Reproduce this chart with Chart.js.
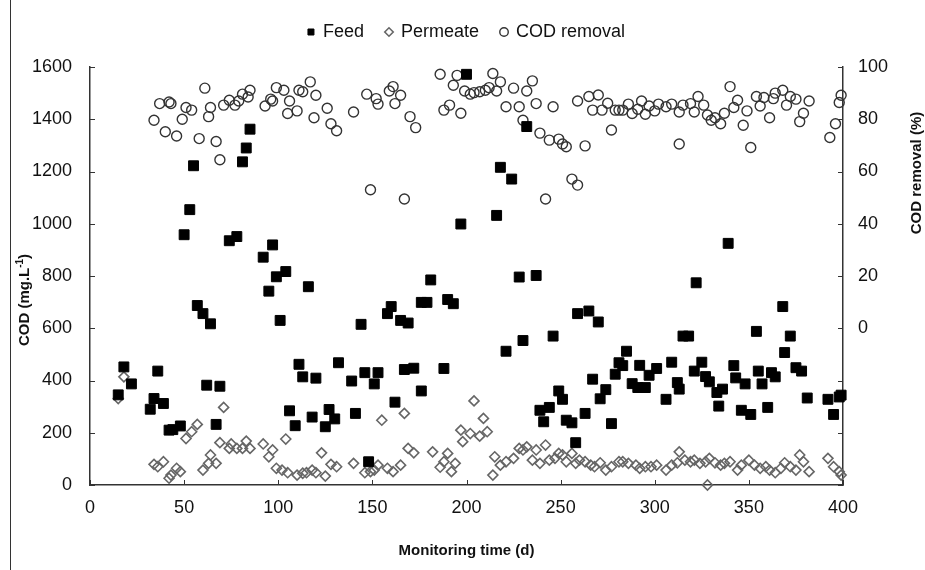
<!DOCTYPE html>
<html>
<head>
<meta charset="utf-8">
<script src="https://cdn.jsdelivr.net/npm/chart.js@4.4.1/dist/chart.umd.min.js"></script>
<style>
  html, body { margin: 0; padding: 0; background: #fff; }
  #wrap { position: relative; width: 925px; height: 570px; }
</style>
</head>
<body>
<div id="wrap"><canvas id="codChart" width="925" height="570"></canvas></div>
<script>
// Feed COD (mg/L) vs monitoring day
const feedDays = [15,18,22,32,34,36,39,42,44,48,50,53,55,57,60,62,64,67,69,74,78,81,83,85,92,95,97,99,101,104,
  106,109,111,113,116,118,120,125,127,130,132,139,141,144,146,148,151,153,158,160,162,165,167,169,172,176,176,179,181,188,
  190,193,197,200,216,218,221,224,228,230,232,237,239,241,244,246,249,251,253,256,258,259,263,265,267,270,271,274,277,279,
  281,283,285,288,291,292,295,297,301,306,309,312,313,315,318,321,322,325,327,329,333,334,336,339,342,343,346,348,351,354,
  355,357,360,362,364,368,369,372,375,378,381,392,395,398,399];
const feedCod = [345,452,387,290,331,436,312,210,212,226,958,1054,1222,687,656,382,617,232,378,935,951,1237,1290,1362,872,742,919,797,630,817,
  284,227,462,414,759,260,409,223,289,253,468,398,274,615,430,89,387,430,656,683,317,630,442,620,447,360,699,699,785,446,
  710,694,999,1572,1032,1216,512,1171,796,553,1372,802,286,242,297,570,360,328,248,238,162,656,274,666,405,624,330,365,235,424,
  468,457,512,388,373,458,373,420,446,328,470,392,367,570,570,436,774,470,415,395,354,302,367,925,457,410,286,387,270,588,
  436,387,297,430,414,683,507,570,449,436,333,328,270,337,344];

// Permeate COD (mg/L)
const permeateDays = [15,18,34,36,39,42,43,46,48,51,54,57,60,63,64,67,69,71,74,75,78,81,83,85,92,95,97,99,102,104,
  105,110,113,115,118,120,123,125,128,131,140,146,149,151,153,155,158,161,165,167,169,172,182,186,188,190,192,194,197,198,
  202,204,207,209,211,214,215,218,221,225,228,230,232,235,237,239,242,244,247,249,251,253,256,258,260,263,266,268,271,274,
  277,281,283,286,290,292,295,298,301,306,309,312,313,316,319,321,324,327,328,329,332,335,337,340,344,346,350,353,356,359,
  361,364,367,369,372,375,377,379,382,392,395,398,399];
const permeateCod = [331,414,79,70,89,26,38,64,51,178,204,232,57,83,115,83,162,297,140,157,140,140,168,140,157,108,134,64,57,176,
  47,38,45,47,57,47,123,34,79,70,83,47,51,57,76,248,64,51,76,274,140,123,127,68,89,121,51,83,210,166,
  197,322,187,255,204,38,108,76,89,102,140,134,146,95,134,83,153,95,102,121,115,89,121,83,95,89,76,70,85,57,
  70,89,89,83,76,64,70,70,76,57,76,85,127,95,89,95,83,89,0,102,85,76,83,89,57,76,95,76,64,70,
  57,47,64,85,70,57,115,89,51,102,70,51,38];

// COD removal (%)
const removalDays = [34,37,40,42,43,46,49,51,54,58,61,63,64,67,69,71,74,77,79,81,84,85,93,96,97,99,
  103,105,106,110,111,113,117,119,120,126,128,131,140,147,149,152,153,159,161,162,165,167,170,173,186,188,191,193,195,197,199,
  202,204,207,210,212,214,216,218,221,225,228,230,232,235,237,239,242,244,246,249,251,253,256,259,259,263,265,267,270,272,275,277,
  279,281,283,286,288,291,293,295,297,
  300,302,306,309,313,313,315,319,321,323,326,328,330,332,335,337,340,342,344,347,349,351,354,356,358,361,363,364,368,370,372,375,
  377,379,382,393,396,398,399];
const removalPct = [79.6,86,75.2,86.6,86,73.6,80,84.5,83.5,72.6,91.9,81,84.5,71.5,64.5,85.4,87.3,85.4,87,89.6,88.5,91.1,85.1,87.7,87,92.1,
  91.1,82.2,87,83.2,91.1,90.5,94.3,80.6,89.2,84.2,78.3,75.6,82.8,89.6,53,87.9,85.8,90.8,92.5,86,89.2,49.5,81,76.8,97.2,83.5,85.4,93,96.8,82.3,90.8,
  89.6,90.2,90.5,91.1,92.1,97.5,90.8,94.3,84.8,91.9,84.8,79.6,90.8,94.7,86,74.7,49.5,72,84.8,72.4,70.5,69.5,57.1,54.8,87,69.8,88.7,83.5,89.3,83.5,86.1,75.9,
  83.5,83.5,83.5,85.8,82.2,83.8,87,81.9,85.1,
  83.2,85.8,84.8,85.8,82.8,70.5,85.4,86,82.8,88.7,85.4,81.6,79.6,80.6,78.3,82.3,92.5,84.5,87.3,77.7,83.2,69.2,88.7,85.1,88.3,80.6,87.9,90,91.1,85.4,88.7,87.7,
  79.1,82.3,87,73,78.3,86.4,89.2];

const toPoints = (xs, ys) => xs.map((d, i) => ({ x: d, y: ys[i] }));

const textColor = '#111';
const fontFamily = '"Liberation Sans", Arial, sans-serif';

// ticks pointing inwards, the outer frame line and the axis titles
const extras = {
  id: 'extras',
  afterDraw(chart) {
    const { ctx, chartArea: a, scales } = chart;
    ctx.save();
    ctx.strokeStyle = '#333';
    ctx.lineWidth = 1;
    ctx.beginPath();
    scales.y.ticks.forEach(t => {
      const py = Math.round(scales.y.getPixelForValue(t.value)) + 0.5;
      ctx.moveTo(a.left, py); ctx.lineTo(a.left + 5, py);
    });
    scales.y2.ticks.forEach(t => {
      const py = Math.round(scales.y2.getPixelForValue(t.value)) + 0.5;
      ctx.moveTo(a.right, py); ctx.lineTo(a.right - 5, py);
    });
    scales.x.ticks.forEach(t => {
      const px = Math.round(scales.x.getPixelForValue(t.value)) + 0.5;
      ctx.moveTo(px, a.bottom); ctx.lineTo(px, a.bottom - 5);
    });
    ctx.moveTo(10.5, 0); ctx.lineTo(10.5, 570);
    ctx.stroke();

    ctx.fillStyle = textColor;
    ctx.textBaseline = 'middle';
    // x title
    ctx.font = 'bold 15px ' + fontFamily;
    ctx.textAlign = 'center';
    ctx.fillText('Monitoring time (d)', (a.left + a.right) / 2, 551);

    // left title with superscript
    ctx.save();
    ctx.translate(25, 300);
    ctx.rotate(-Math.PI / 2);
    ctx.textAlign = 'left';
    const main = 'COD (mg.L';
    const sup = '-1';
    ctx.font = 'bold 15px ' + fontFamily;
    const w1 = ctx.measureText(main).width;
    const w3 = ctx.measureText(')').width;
    ctx.font = 'bold 10px ' + fontFamily;
    const w2 = ctx.measureText(sup).width;
    const x0 = -(w1 + w2 + w3) / 2;
    ctx.font = 'bold 15px ' + fontFamily;
    ctx.fillText(main, x0, 0);
    ctx.font = 'bold 10px ' + fontFamily;
    ctx.fillText(sup, x0 + w1, -5);
    ctx.font = 'bold 15px ' + fontFamily;
    ctx.fillText(')', x0 + w1 + w2, 0);
    ctx.restore();

    // right title
    ctx.save();
    ctx.translate(917, 173);
    ctx.rotate(-Math.PI / 2);
    ctx.textAlign = 'center';
    ctx.font = 'bold 15px ' + fontFamily;
    ctx.fillText('COD removal (%)', 0, 0);
    ctx.restore();
    ctx.restore();
  }
};

const tickFont = { family: fontFamily, size: 18 };
const plain = v => String(v);

new Chart(document.getElementById('codChart').getContext('2d'), {
  type: 'scatter',
  data: {
    datasets: [{
      label: 'Feed',
      data: toPoints(feedDays, feedCod),
      pointStyle: 'rect',
      pointRadius: 7,
      backgroundColor: '#000',
      borderColor: '#000',
      borderWidth: 1,
      yAxisID: 'y',
      clip: false
    }, {
      label: 'Permeate',
      data: toPoints(permeateDays, permeateCod),
      pointStyle: 'rectRot',
      pointRadius: 5,
      backgroundColor: 'rgba(255,255,255,0)',
      borderColor: '#666',
      borderWidth: 1.6,
      yAxisID: 'y',
      clip: false
    }, {
      label: 'COD removal',
      data: toPoints(removalDays, removalPct),
      pointStyle: 'circle',
      pointRadius: 5,
      backgroundColor: 'rgba(255,255,255,0)',
      borderColor: '#333',
      borderWidth: 1.4,
      yAxisID: 'y2',
      clip: false
    }]
  },
  options: {
    responsive: false,
    animation: false,
    layout: { padding: { top: 1, left: 0, right: 0, bottom: 0 } },
    plugins: {
      legend: {
        position: 'top',
        fullSize: false,
        labels: {
          usePointStyle: true,
          boxWidth: 6,
          boxHeight: 6,
          padding: 22,
          color: textColor,
          font: { family: fontFamily, size: 18 }
        }
      },
      // empty spacer between legend and plot
      title: {
        display: true,
        text: '',
        weight: 500,
        font: { size: 1, lineHeight: 1 },
        padding: { top: 15, bottom: 0 }
      },
      tooltip: { enabled: false }
    },
    scales: {
      x: {
        type: 'linear',
        min: 0,
        max: 400,
        ticks: { stepSize: 50, padding: 12, color: textColor, font: tickFont, maxRotation: 0, callback: plain },
        grid: { display: false, drawTicks: false },
        border: { display: true, color: '#333', width: 1.5 },
        afterFit: s => { s.height = 85; }
      },
      y: {
        position: 'left',
        min: 0,
        max: 1600,
        ticks: { stepSize: 200, padding: 18, color: textColor, font: tickFont, callback: plain },
        grid: { display: false, drawTicks: false },
        border: { display: true, color: '#333', width: 1.5 },
        afterFit: s => { s.width = 90; }
      },
      y2: {
        position: 'right',
        min: -60,
        max: 100,
        ticks: { stepSize: 20, padding: 15, color: textColor, font: tickFont,
                 callback: v => (v >= 0 ? String(v) : '') },
        grid: { display: false, drawTicks: false },
        border: { display: true, color: '#333', width: 1.5 },
        afterFit: s => { s.width = 82; }
      }
    }
  },
  plugins: [extras]
});
</script>
</body>
</html>
